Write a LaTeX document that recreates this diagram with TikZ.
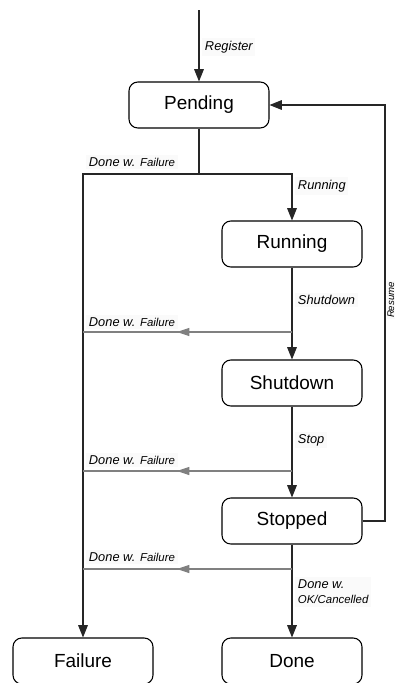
\documentclass[tikz,border=0pt]{standalone}
\usepackage{fontspec}
\setmainfont{Liberation Sans}
\usetikzlibrary{arrows.meta}
\tikzset{
  state/.style={draw, line width=0.6pt, rounded corners=5pt, minimum width=2.8cm, minimum height=0.92cm, inner sep=0pt, font=\fontsize{10.8}{12}\selectfont},
  lbl/.style={anchor=west, fill=black!2, inner sep=1.5pt, font=\fontsize{7.3}{8.5}\selectfont\itshape},
  conn/.style={line width=0.6pt, black!85},
  arr/.style={-{Triangle[length=7pt,width=5.5pt]}},
  fail/.style={line width=0.6pt, black!50},
  garr/.style={-{Triangle[length=7pt,width=4.6pt]}, black!50, line width=0.6pt},
}
\newcommand{\smallf}[1]{{\fontsize{6.5}{7.5}\selectfont #1}}
\begin{document}
\begin{tikzpicture}[x=0.02cm, y=-0.02cm]
\useasboundingbox (0,0) rectangle (395,683);
% states
\node[state] (pend) at (199,105) {Pending};
\node[state] (run) at (292,244) {Running};
\node[state] (shut) at (292,383) {Shutdown};
\node[state] (stop) at (292,521) {Stopped};
\node[state] (fail) at (83,661) {Failure};
\node[state] (done) at (292,661) {Done};
% coordinates
\coordinate (start) at (199,10);
\coordinate (split) at (199,174);
\coordinate (g1) at (292,332);
\coordinate (g1l) at (83,332);
\coordinate (g1a) at (177,332);
\coordinate (g2) at (292,471);
\coordinate (g2l) at (83,471);
\coordinate (g2a) at (177,471);
\coordinate (g3) at (292,569);
\coordinate (g3l) at (83,569);
\coordinate (g3a) at (177,569);
\coordinate (rs) at (385,521);
\coordinate (re) at (385,105);
% connectors
\draw[conn, arr] (start) -- (pend.north);
\draw[conn] (pend.south) -- (split);
\draw[conn, arr] (split) -| (run.north);
\draw[conn, arr] (split) -| (fail.north);
\draw[conn, arr] (run.south) -- (shut.north);
\draw[conn, arr] (shut.south) -- (stop.north);
\draw[conn, arr] (stop.south) -- (done.north);
\draw[conn, arr] (stop.east) -- (rs) -- (re) -- (pend.east);
% failure branches
\draw[fail] (g1) -- (g1l);
\draw[garr] (g1) -- (g1a);
\draw[fail] (g2) -- (g2l);
\draw[garr] (g2) -- (g2a);
\draw[fail] (g3) -- (g3l);
\draw[garr] (g3) -- (g3a);
% labels
\node[lbl] (lreg) at (202,47) {Register};
\node[lbl] (lf0) at (86,162) {Done w. \smallf{Failure}};
\node[lbl] (lrun) at (295,186) {Running};
\node[lbl] (lshut) at (295,300) {Shutdown};
\node[lbl] (lf1) at (86,322) {Done w. \smallf{Failure}};
\node[lbl] (lstop) at (295,440) {Stop};
\node[lbl] (lf2) at (86,460) {Done w. \smallf{Failure}};
\node[lbl] (lf3) at (86,557) {Done w. \smallf{Failure}};
\node[lbl, align=left] (ldone) at (295,592) {Done w.\\\smallf{OK/Cancelled}};
\node[lbl, rotate=90, anchor=north, inner sep=0.3pt, font=\fontsize{5.5}{6}\selectfont\itshape] (lres) at (386.5,300) {Resume};
\end{tikzpicture}
\end{document}
